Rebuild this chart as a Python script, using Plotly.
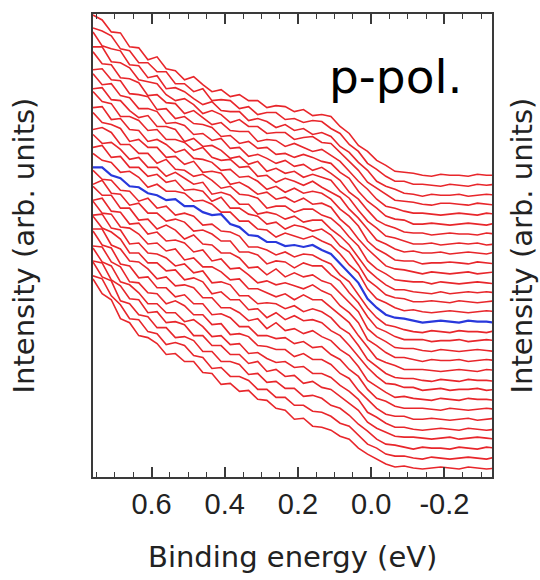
import plotly.graph_objects as go

# Binding energy grid (eV)
energy = [0.76, 0.735, 0.71, 0.685, 0.66, 0.635, 0.61, 0.585, 0.56, 0.535, 0.51, 0.485, 0.46, 0.435,
          0.41, 0.385, 0.36, 0.335, 0.31, 0.285, 0.26, 0.235, 0.21, 0.185, 0.16, 0.135, 0.11, 0.085,
          0.06, 0.035, 0.01, -0.015, -0.04, -0.065, -0.09, -0.115, -0.14, -0.165, -0.19, -0.215,
          -0.24, -0.265, -0.29, -0.315, -0.34]

# vertical stacking offsets of the EDCs (arb. units), top to bottom
offsets = [303, 293, 283, 274, 264, 254, 244, 234, 225, 215, 205, 195, 185, 176, 166, 156,
           146, 137, 127, 117, 107, 97, 88, 78, 68, 58, 48, 39, 29, 19, 9]

# EDC intensities (arb. units), top to bottom
edc_00 = [161,156,144,143,129,128,116,119,107,105,96,99,91,84,86,79,81,75,75,68,70,69,64,66,60,61,59,49,42,30,24,15,10,4,3,2,0,-1,1,0,0,-1,1,0,0]
edc_01 = [158,155,150,137,135,123,123,114,114,102,102,94,97,85,86,85,77,79,71,73,73,66,67,63,65,64,57,52,41,34,22,16,9,4,4,1,1,0,-1,1,0,-1,1,0,1]
edc_02 = [164,150,147,145,131,130,118,120,107,108,104,97,91,94,85,84,84,75,77,74,68,71,65,67,61,63,59,49,43,33,25,14,9,6,2,1,-1,1,0,0,1,-1,0,1,0]
edc_03 = [158,158,143,142,137,125,123,121,110,104,106,100,91,94,90,82,85,78,78,71,72,72,65,67,68,62,61,52,42,34,22,16,10,4,3,2,0,-1,1,1,0,-1,1,0,-1]
edc_04 = [163,151,150,137,136,132,119,120,112,111,101,104,97,90,92,84,83,83,73,75,74,68,71,67,63,65,59,53,43,33,25,15,8,6,3,1,1,0,-1,0,1,0,-1,1,0]
edc_05 = [155,156,145,144,131,130,128,115,116,106,108,101,100,97,88,89,81,83,76,77,70,71,67,70,67,63,61,52,46,33,23,16,8,5,4,0,0,1,0,-1,0,1,0,-1,1]
edc_06 = [161,150,151,139,137,126,126,123,111,112,109,100,101,94,96,86,87,78,80,76,71,74,68,70,64,67,61,54,42,35,24,14,9,6,2,1,1,-1,0,1,0,0,-1,1,0]
edc_07 = [156,157,145,144,134,127,129,118,118,115,103,106,98,99,94,86,88,80,83,73,76,71,73,67,70,67,64,53,46,34,23,16,8,6,3,0,0,1,-1,0,1,0,1,-1,0]
edc_08 = [162,152,150,137,137,133,123,124,114,114,111,103,106,96,93,94,86,87,77,78,71,75,72,68,72,66,61,56,44,35,24,13,9,4,1,2,0,0,1,-1,0,1,0,-1,1]
edc_09 = [156,157,144,145,134,133,122,124,119,111,114,105,104,101,93,94,86,87,82,74,77,71,75,70,72,70,64,54,47,37,22,14,9,3,2,2,-1,0,0,1,0,-1,1,0,-1]
edc_10 = [161,151,149,145,132,134,126,126,116,117,109,112,101,102,100,89,91,86,79,81,74,76,71,75,69,70,66,54,46,34,24,15,7,4,3,1,-1,1,0,-1,0,1,-1,0,1]
edc_11 = [154,156,151,139,139,130,130,120,124,114,113,107,109,103,95,97,89,88,85,75,77,77,71,74,74,68,65,57,46,37,22,14,9,3,2,1,1,-1,1,0,-1,0,1,0,-1]
edc_12 = [159,150,151,144,134,136,126,126,117,121,115,109,111,99,101,98,89,89,79,81,79,74,77,71,73,73,64,57,48,36,23,15,8,3,3,1,0,-1,1,-1,0,1,0,1,0]
edc_13 = [155,157,145,146,135,135,126,128,120,122,112,113,111,101,105,94,94,88,86,78,80,73,77,75,71,73,67,56,50,37,22,15,7,4,3,0,0,1,0,-1,1,0,-1,0,1]
edc_14 = [159,152,150,140,141,135,125,128,121,121,119,111,112,108,100,100,91,91,83,82,75,79,76,73,76,71,67,58,47,39,23,13,9,4,1,2,0,-1,0,1,0,-1,0,1,0]
edc_15 = [155,155,147,144,136,135,129,127,122,123,116,116,110,107,108,98,95,87,86,80,80,76,77,75,77,72,68,58,48,39,23,14,7,4,3,1,-1,0,1,0,-1,1,0,0,-1]
edc_16 = [162,153,152,142,141,131,134,124,126,117,119,116,107,108,101,100,96,85,85,82,77,80,75,78,77,72,68,57,50,37,24,14,7,5,2,0,-1,1,0,-1,1,0,0,-1,1]
edc_17 = [157,161,148,147,136,138,128,128,120,122,119,110,111,107,100,100,89,89,86,77,80,79,73,78,75,75,66,60,48,38,24,13,9,4,1,1,1,-1,0,0,1,-1,0,1,0]
edc_18 = [165,156,156,143,143,131,132,122,126,121,112,116,107,106,98,98,93,83,84,76,82,74,78,74,76,70,67,58,48,39,22,14,9,3,2,2,0,-1,1,0,-1,0,1,0,-1]
edc_19 = [161,163,150,149,137,138,127,129,120,121,118,109,111,100,102,92,93,86,78,80,76,78,75,72,76,70,66,55,48,38,21,15,8,3,3,1,-1,1,0,0,1,-1,0,1,0]
edc_20 = [170,158,157,144,143,137,127,128,120,122,111,113,104,104,99,91,92,82,82,78,74,77,71,76,71,71,63,56,48,35,23,12,8,5,1,1,1,0,-1,0,1,0,-1,1,0]
edc_21 = [166,167,153,151,137,138,128,127,123,115,117,108,110,98,99,96,85,85,77,78,77,72,75,69,72,69,63,53,47,35,21,14,7,3,2,2,0,-1,1,0,-1,1,0,0,-1]
edc_22 = [174,162,158,151,137,137,127,127,119,120,110,112,108,96,98,90,90,80,81,72,77,70,74,69,70,67,59,54,44,33,22,13,6,5,2,2,-1,0,1,-1,0,0,1,-1,0]
edc_23 = [171,171,155,151,139,138,131,121,123,114,115,112,102,102,92,92,87,79,81,71,77,69,71,66,69,63,59,50,44,33,19,13,7,2,3,1,0,-1,1,0,-1,1,0,0,-1]
edc_24 = [179,165,162,146,144,132,133,122,122,113,115,106,106,95,96,92,83,83,74,74,71,72,66,68,62,63,55,50,40,33,20,11,8,3,1,1,1,0,-1,1,0,-1,0,1,0]
edc_25 = [174,173,158,153,138,137,127,126,116,119,114,105,105,95,96,85,86,83,74,73,70,70,63,66,60,60,55,46,41,29,20,11,5,3,3,0,0,1,0,-1,0,1,-1,0,1]
edc_26 = [182,168,164,148,145,137,126,126,117,117,108,110,103,93,94,85,86,76,77,71,67,68,62,63,56,56,52,44,38,30,17,12,6,2,2,0,-1,0,1,0,-1,1,0,-1,0]
edc_27 = [178,176,159,153,140,139,126,127,116,117,114,103,103,93,93,84,84,75,77,67,69,62,63,55,57,51,49,42,35,28,16,10,6,2,1,1,0,-1,0,1,-1,0,1,0,-1]
edc_28 = [187,172,168,148,145,134,132,121,121,111,112,108,97,97,87,87,84,74,75,66,67,60,60,52,53,50,43,40,33,24,17,9,4,3,1,-1,1,0,0,-1,1,0,-1,1,0]
edc_29 = [183,180,163,154,140,139,127,125,114,116,113,103,101,90,91,82,82,78,69,69,61,61,53,53,47,46,42,35,32,23,14,10,4,2,2,0,-1,1,0,-1,0,1,0,-1,1]
edc_30 = [190,175,169,150,146,133,131,125,114,115,107,107,96,95,84,85,77,78,69,68,60,58,49,50,42,41,38,32,29,20,14,9,4,1,2,0,-1,0,1,0,-1,1,0,-1,0]

curves = [edc_00, edc_01, edc_02, edc_03, edc_04, edc_05, edc_06, edc_07, edc_08, edc_09,
          edc_10, edc_11, edc_12, edc_13, edc_14, edc_15, edc_16, edc_17, edc_18, edc_19,
          edc_20, edc_21, edc_22, edc_23, edc_24, edc_25, edc_26, edc_27, edc_28, edc_29, edc_30]
highlight = 15

tick_vals = [0.6, 0.4, 0.2, 0.0, -0.2]
tick_text = ["0.6", "0.4", "0.2", "0.0", "-0.2"]

RED = "#e8262b"
BLUE = "#2838dc"
AX = "#3a3a3a"

fig = go.Figure()
for i, (c, off) in enumerate(zip(curves, offsets)):
    if i == highlight:
        continue
    fig.add_trace(go.Scatter(x=energy, y=[v + off for v in c], mode="lines",
                             line=dict(color=RED, width=1.6), showlegend=False, hoverinfo="skip"))
c, off = curves[highlight], offsets[highlight]
fig.add_trace(go.Scatter(x=energy, y=[v + off for v in c], mode="lines",
                         line=dict(color=BLUE, width=2.2), showlegend=False, hoverinfo="skip"))

fig.update_layout(
    width=540, height=580,
    margin=dict(l=93, r=48, t=12, b=103),
    paper_bgcolor="white", plot_bgcolor="white",
    showlegend=False,
    xaxis=dict(range=[0.76, -0.33], showgrid=False, zeroline=False,
               showline=True, linecolor=AX, linewidth=1.6, mirror="ticks",
               ticks="inside", ticklen=10, tickwidth=1.5, tickcolor=AX,
               tickmode="array", tickvals=tick_vals, ticktext=tick_text,
               ticklabelstandoff=0,
               tickfont=dict(family="Liberation Sans", size=29, color="#222"),
               minor=dict(tickmode="linear", tick0=0, dtick=0.05, ticks="inside",
                          ticklen=5, tickwidth=1.3, tickcolor=AX)),
    yaxis=dict(range=[0, 465], showgrid=False, zeroline=False,
               showline=True, linecolor=AX, linewidth=1.6, mirror=True,
               ticks="", showticklabels=False),
    annotations=[
        dict(text="Binding energy (eV)", xref="paper", yref="paper", x=0.5, y=-0.172,
             xanchor="center", yanchor="middle", showarrow=False,
             font=dict(family="DejaVu Sans", size=29, color="#222")),
        dict(text="Intensity (arb. units)", xref="paper", yref="paper", x=-0.173, y=0.5,
             xanchor="center", yanchor="middle", textangle=-90, showarrow=False,
             font=dict(family="DejaVu Sans", size=29, color="#222")),
        dict(text="Intensity (arb. units)", xref="paper", yref="paper", x=1.0727, y=0.5,
             xanchor="center", yanchor="middle", textangle=-90, showarrow=False,
             font=dict(family="DejaVu Sans", size=29, color="#222")),
        dict(text="p-pol.", xref="paper", yref="paper", x=0.759, y=0.866,
             xanchor="center", yanchor="middle", showarrow=False,
             font=dict(family="DejaVu Sans", size=47, color="black")),
    ],
)

fig.write_html("out.html")
